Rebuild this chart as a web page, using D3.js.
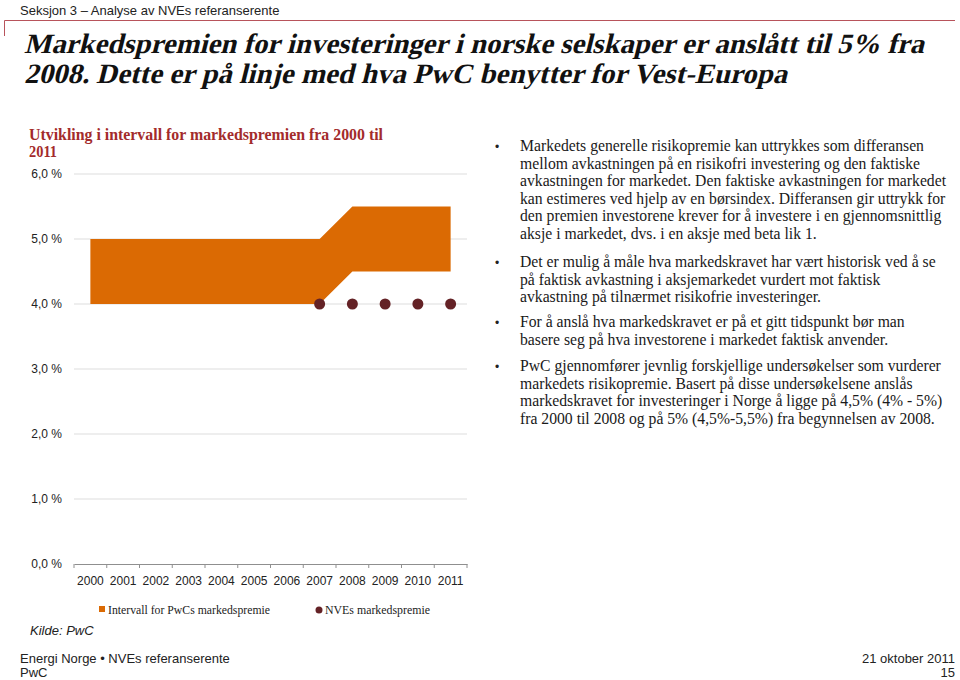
<!DOCTYPE html>
<html><head><meta charset="utf-8">
<script src="https://cdn.jsdelivr.net/npm/d3@7"></script>
<style>body{margin:0;background:#fff;} svg{display:block;}</style>
</head><body>
<svg id="c" width="960" height="680"></svg>
<script>
const years = ["2000","2001","2002","2003","2004","2005","2006","2007","2008","2009","2010","2011"];
const lowerBound = [4,4,4,4,4,4,4,4,4.5,4.5,4.5,4.5];
const upperBound = [5,5,5,5,5,5,5,5,5.5,5.5,5.5,5.5];
const nveValues = [null,null,null,null,null,null,null,4,4,4,4,4];
const yTicks = [0,1,2,3,4,5,6];
const yTickLabels = ["0,0 %","1,0 %","2,0 %","3,0 %","4,0 %","5,0 %","6,0 %"];
const legendLabels = ["Intervall for PwCs markedspremie","NVEs markedspremie"];
const titleLines = ["Markedspremien for investeringer i norske selskaper er anslått til 5% fra","2008. Dette er på linje med hva PwC benytter for Vest-Europa"];
const subtitleLines = ["Utvikling i intervall for markedspremien  fra 2000 til","2011"];
const bullets = [
 ["Markedets generelle risikopremie kan uttrykkes som differansen","mellom avkastningen på en risikofri investering og den faktiske","avkastningen for markedet. Den faktiske avkastningen for markedet","kan estimeres ved hjelp av en børsindex. Differansen gir uttrykk for","den premien investorene krever for å investere i en gjennomsnittlig","aksje i markedet, dvs. i en aksje med beta lik 1."],
 ["Det er mulig å måle hva markedskravet har vært historisk ved å se","på faktisk avkastning i aksjemarkedet vurdert mot faktisk","avkastning på tilnærmet risikofrie investeringer."],
 ["For å anslå hva markedskravet er på et gitt tidspunkt bør man","basere seg på hva investorene i markedet faktisk anvender."],
 ["PwC gjennomfører jevnlig forskjellige undersøkelser som vurderer","markedets risikopremie. Basert på disse undersøkelsene anslås","markedskravet for investeringer i Norge å ligge på 4,5% (4% - 5%)","fra 2000 til 2008 og på 5% (4,5%-5,5%) fra begynnelsen av 2008."]
];

const svg = d3.select("#c");
const sans = "Liberation Sans, Arial, sans-serif";
const serif = "Liberation Serif, Times New Roman, serif";

// header
svg.append("text").attr("x",20).attr("y",15).attr("font-family",sans).attr("font-size",13).attr("fill","#222").text("Seksjon 3 – Analyse av NVEs referanserente");
svg.append("path").attr("d","M4.5,36 V20.5 H955").attr("fill","none").attr("stroke","#b8535b").attr("stroke-width",1);

// title (serif bold, slanted)
const titleW = [900, 763];
titleLines.forEach((t,i)=>{
  svg.append("g").attr("transform",`translate(24,${53+i*30}) skewX(-14)`)
    .append("text").attr("x",0).attr("y",0).attr("font-family",serif).attr("font-weight","bold")
    .attr("font-size",28).attr("fill","#111").attr("textLength",titleW[i]).attr("lengthAdjust","spacingAndGlyphs").text(t);
});

// subtitle
const subW = [354, 28];
subtitleLines.forEach((t,i)=>{
  svg.append("text").attr("x",29).attr("y",140+i*17).attr("font-family",serif).attr("font-weight","bold")
    .attr("font-size",16).attr("fill","#a32b2b").attr("textLength",subW[i]).attr("lengthAdjust","spacingAndGlyphs").text(t);
});

// chart
const x = d3.scaleBand().domain(years).range([74,467]).padding(0);
const y = d3.scaleLinear().domain([0,6]).range([564,174]);
const cx = d => x(d)+x.bandwidth()/2;

const g = svg.append("g");
g.selectAll("line.grid").data(yTicks.filter(v=>v>0)).enter().append("line")
  .attr("x1",74).attr("x2",467).attr("y1",d=>y(d)).attr("y2",d=>y(d))
  .attr("stroke","#dedede").attr("stroke-width",1.2);

const yAxis = d3.axisLeft(y).tickValues(yTicks).tickFormat((d,i)=>yTickLabels[i]).tickSize(0).tickPadding(12);
const ya = svg.append("g").attr("transform","translate(74,0)").call(yAxis);
ya.select(".domain").remove();
ya.selectAll("text").attr("font-family",sans).attr("font-size",12).attr("fill","#222");

const xAxis = d3.axisBottom(x).tickSize(0).tickPadding(12);
const xa = svg.append("g").attr("transform","translate(0,564)").call(xAxis);
xa.select(".domain").attr("stroke","#8f8f8f");
xa.selectAll("text").attr("font-family",sans).attr("font-size",12).attr("fill","#222");
const bounds = years.map(d=>x(d)).concat([x(years[years.length-1])+x.bandwidth()]);
xa.selectAll("line.bt").data(bounds).enter().append("line").attr("class","bt")
  .attr("x1",d=>d).attr("x2",d=>d).attr("y1",0).attr("y2",4).attr("stroke","#8f8f8f");

const rows = years.map((yr,i)=>({yr, lo:lowerBound[i], hi:upperBound[i], nve:nveValues[i]}));
const area = d3.area().x(d=>cx(d.yr)).y0(d=>y(d.lo)).y1(d=>y(d.hi));
g.append("path").datum(rows).attr("d",area).attr("fill","#db6a03");

g.selectAll("circle.nve").data(rows.filter(d=>d.nve!=null)).enter().append("circle")
  .attr("cx",d=>cx(d.yr)).attr("cy",d=>y(d.nve)).attr("r",5.5).attr("fill","#642226");

// legend
svg.append("rect").attr("x",99).attr("y",606).attr("width",6).attr("height",6).attr("fill","#db6a03");
svg.append("text").attr("x",108).attr("y",614).attr("font-family",serif).attr("font-size",13).attr("fill","#222")
  .attr("textLength",162).attr("lengthAdjust","spacingAndGlyphs").text(legendLabels[0]);
svg.append("circle").attr("cx",319).attr("cy",610).attr("r",3.5).attr("fill","#642226");
svg.append("text").attr("x",325).attr("y",614).attr("font-family",serif).attr("font-size",13).attr("fill","#222")
  .attr("textLength",105).attr("lengthAdjust","spacingAndGlyphs").text(legendLabels[1]);

svg.append("text").attr("x",30).attr("y",635).attr("font-family",sans).attr("font-style","italic").attr("font-size",13).attr("fill","#222").text("Kilde: PwC");

// footer
svg.append("text").attr("x",20).attr("y",663).attr("font-family",sans).attr("font-size",13).attr("fill","#222").text("Energi Norge • NVEs referanserente");
svg.append("text").attr("x",20).attr("y",677).attr("font-family",sans).attr("font-size",13).attr("fill","#222").text("PwC");
svg.append("text").attr("x",955).attr("y",663).attr("text-anchor","end").attr("font-family",sans).attr("font-size",13).attr("fill","#222").text("21 oktober 2011");
svg.append("text").attr("x",955).attr("y",677).attr("text-anchor","end").attr("font-family",sans).attr("font-size",13).attr("fill","#222").text("15");

// bullets
const starts = [151, 267, 327, 371];
const lh = 17.6;
bullets.forEach((lines,bi)=>{
  svg.append("text").attr("x",495).attr("y",starts[bi]).attr("font-family",sans).attr("font-size",12).attr("fill","#222").text("•");
  lines.forEach((l,li)=>{
    svg.append("text").attr("x",520).attr("y",starts[bi]+li*lh).attr("font-family",serif).attr("font-size",15.7).attr("fill","#1a1a1a").text(l);
  });
});
</script>
</body></html>
